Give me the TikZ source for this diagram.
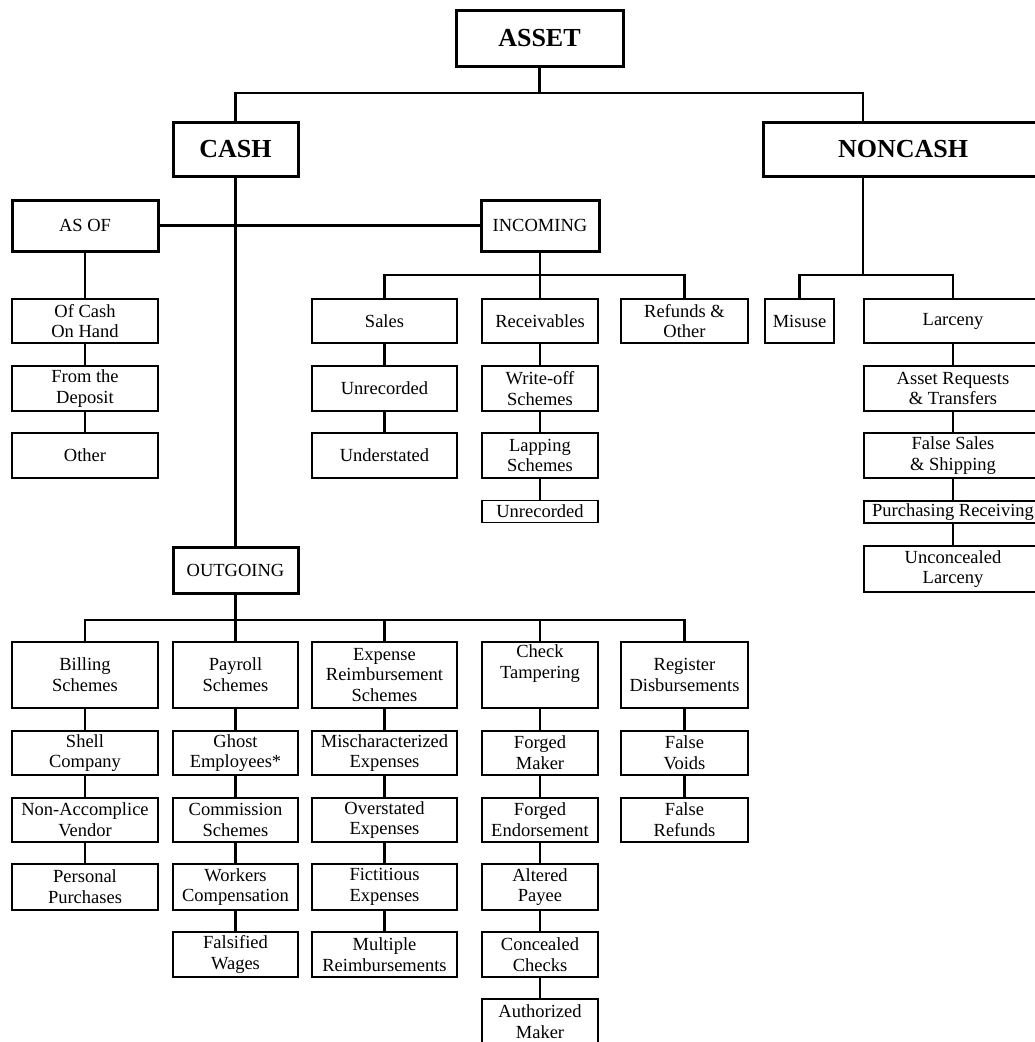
\documentclass[tikz,border=0pt]{standalone}
\usepackage{fontspec}
\setmainfont{Liberation Serif}
\usetikzlibrary{positioning}

\begin{document}
\begin{tikzpicture}[x=1pt, y=-1pt,
  box/.style={rectangle, draw, line width=1.9pt, align=center, inner sep=0pt, minimum height=45pt, font=\fontsize{18.5}{20.7}\selectfont},
  bigbox/.style={box, line width=3pt},
  headbox/.style={bigbox, font=\fontsize{26}{30}\selectfont\bfseries},
  colA/.style={minimum width=146pt},
  colB/.style={minimum width=125pt},
  colC/.style={minimum width=145pt},
  colD/.style={minimum width=116pt},
  colE/.style={minimum width=127pt},
  colL/.style={minimum width=178pt},
  link/.style={line width=2.8pt}]

\useasboundingbox (0,0) rectangle (1034,1042);

% top level
\node[headbox, minimum width=167pt, minimum height=56pt] (asset) at (539.5,38) {ASSET};
\node[headbox, colB, minimum height=54pt] (cash) at (235.5,149) {CASH};
\node[headbox, minimum width=280pt, minimum height=54pt] (noncash) at (903,149) {NONCASH};
\coordinate (topbar) at (539.5,93);
\coordinate (ncx) at (863,275);
\draw[link] (asset.south) -- (topbar);
\draw[link] (cash.north) |- (topbar);
\draw[link] (topbar) -| (noncash.north -| ncx);

% cash
\node[bigbox, colA, minimum height=51pt] (asof) at (85,225.5) {AS OF};
\node[bigbox, minimum width=118pt, minimum height=51pt] (incoming) at (540,225.5) {INCOMING};
\node[bigbox, colB, minimum height=46pt] (outgoing) at (235.5,570) {OUTGOING};
\draw[link] (cash.south) -- (outgoing.north);
\draw[link] (asof.east) -- (incoming.west);

% as of
\node[box, colA, minimum height=44pt] (ofcash) at (85,321) {Of Cash\\On Hand};
\node[box, colA] (fromdeposit) at (85,388.5) {From the\\Deposit};
\node[box, colA] (asofother) at (85,455.5) {Other};
\draw[link] (asof.south) -- (ofcash.north);
\draw[link] (ofcash.south) -- (fromdeposit.north);
\draw[link] (fromdeposit.south) -- (asofother.north);

% incoming
\coordinate (infork) at (540,275);
\node[box, colC, minimum height=44pt] (sales) at (384.5,321) {Sales};
\node[box, colC] (salesunrec) at (384.5,388.5) {Unrecorded};
\node[box, colC] (salesunder) at (384.5,455.5) {Understated};
\node[box, colD, minimum height=44pt] (receivables) at (540,321) {Receivables};
\node[box, colD] (writeoff) at (540,388.5) {Write-off\\Schemes};
\node[box, colD] (lapping) at (540,455.5) {Lapping\\Schemes};
\node[box, colD, minimum height=22pt] (recvunrec) at (540,511.5) {Unrecorded};
\node[box, colE, minimum height=44pt] (refunds) at (684.5,321) {Refunds \&\\Other};
\draw[link] (incoming.south) -- (receivables.north);
\draw[link] (sales.north) |- (infork) -| (refunds.north);
\draw[link] (sales.south) -- (salesunrec.north);
\draw[link] (salesunrec.south) -- (salesunder.north);
\draw[link] (receivables.south) -- (writeoff.north);
\draw[link] (writeoff.south) -- (lapping.north);
\draw[link] (lapping.south) -- (recvunrec.north);

% noncash
\node[box, minimum width=69pt, minimum height=44pt] (misuse) at (799.5,321) {Misuse};
\node[box, colL, minimum height=44pt] (larceny) at (953,321) {Larceny};
\node[box, colL] (assetreq) at (953,388.5) {Asset Requests\\\& Transfers};
\node[box, colL] (falsesales) at (953,455.5) {False Sales\\\& Shipping};
\node[box, colL, minimum height=22pt] (purchasing) at (953,511.7) {Purchasing Receiving};
\node[box, colL, minimum height=46pt] (unconcealed) at (953,569) {Unconcealed\\Larceny};
\draw[link] (noncash.south -| ncx) -- (ncx);
\draw[link] (misuse.north) |- (ncx) -| (larceny.north);
\draw[link] (larceny.south) -- (assetreq.north);
\draw[link] (assetreq.south) -- (falsesales.north);
\draw[link] (falsesales.south) -- (purchasing.north);
\draw[link] (purchasing.south) -- (unconcealed.north);

% outgoing
\coordinate (outfork) at (235.5,620);
\node[box, colA, minimum height=66pt] (billing) at (85,675) {Billing\\Schemes};
\node[box, colB, minimum height=66pt] (payroll) at (235.5,675) {Payroll\\Schemes};
\node[box, colC, minimum height=66pt] (expense) at (384.5,675) {Expense\\Reimbursement\\Schemes};
\node[box, colD, minimum height=66pt] (check) at (540,675) {Check\\Tampering\\\strut};
\node[box, colE, minimum height=66pt] (register) at (684.5,675) {Register\\Disbursements};
\draw[link] (outgoing.south) -- (payroll.north);
\draw[link] (billing.north) |- (outfork) -| (register.north);
\draw[link] (expense.north) -- (expense.north |- outfork);
\draw[link] (check.north) -- (check.north |- outfork);

% billing
\node[box, colA, minimum height=44pt] (shell) at (85,753) {Shell\\Company};
\node[box, colA, minimum height=44pt] (nonaccomplice) at (85,820) {Non-Accomplice\\Vendor};
\node[box, colA, minimum height=46pt] (personal) at (85,887) {Personal\\Purchases};
\draw[link] (billing.south) -- (shell.north);
\draw[link] (shell.south) -- (nonaccomplice.north);
\draw[link] (nonaccomplice.south) -- (personal.north);

% payroll
\node[box, colB, minimum height=44pt] (ghost) at (235.5,753) {Ghost\\Employees*};
\node[box, colB, minimum height=44pt] (commission) at (235.5,820) {Commission\\Schemes};
\node[box, colB, minimum height=46pt] (workers) at (235.5,887) {Workers\\Compensation};
\node[box, colB] (falsified) at (235.5,954.5) {Falsified\\Wages};
\draw[link] (payroll.south) -- (ghost.north);
\draw[link] (ghost.south) -- (commission.north);
\draw[link] (commission.south) -- (workers.north);
\draw[link] (workers.south) -- (falsified.north);

% expense
\node[box, colC, minimum height=44pt] (mischar) at (384.5,753) {Mischaracterized\\Expenses};
\node[box, colC, minimum height=44pt] (overstated) at (384.5,820) {Overstated\\Expenses};
\node[box, colC, minimum height=46pt] (fictitious) at (384.5,887) {Fictitious\\Expenses};
\node[box, colC] (multiple) at (384.5,954.5) {Multiple\\Reimbursements};
\draw[link] (expense.south) -- (mischar.north);
\draw[link] (mischar.south) -- (overstated.north);
\draw[link] (overstated.south) -- (fictitious.north);
\draw[link] (fictitious.south) -- (multiple.north);

% check
\node[box, colD, minimum height=44pt] (forgedmaker) at (540,753) {Forged\\Maker};
\node[box, colD, minimum height=44pt] (forgedend) at (540,820) {Forged\\Endorsement};
\node[box, colD, minimum height=46pt] (altered) at (540,887) {Altered\\Payee};
\node[box, colD] (concealed) at (540,954.5) {Concealed\\Checks};
\node[box, colD] (authorized) at (540,1021.5) {Authorized\\Maker};
\draw[link] (check.south) -- (forgedmaker.north);
\draw[link] (forgedmaker.south) -- (forgedend.north);
\draw[link] (forgedend.south) -- (altered.north);
\draw[link] (altered.south) -- (concealed.north);
\draw[link] (concealed.south) -- (authorized.north);

% register
\node[box, colE, minimum height=44pt] (falsevoids) at (684.5,753) {False\\Voids};
\node[box, colE, minimum height=44pt] (falserefunds) at (684.5,820) {False\\Refunds};
\draw[link] (register.south) -- (falsevoids.north);
\draw[link] (falsevoids.south) -- (falserefunds.north);

\end{tikzpicture}
\end{document}
